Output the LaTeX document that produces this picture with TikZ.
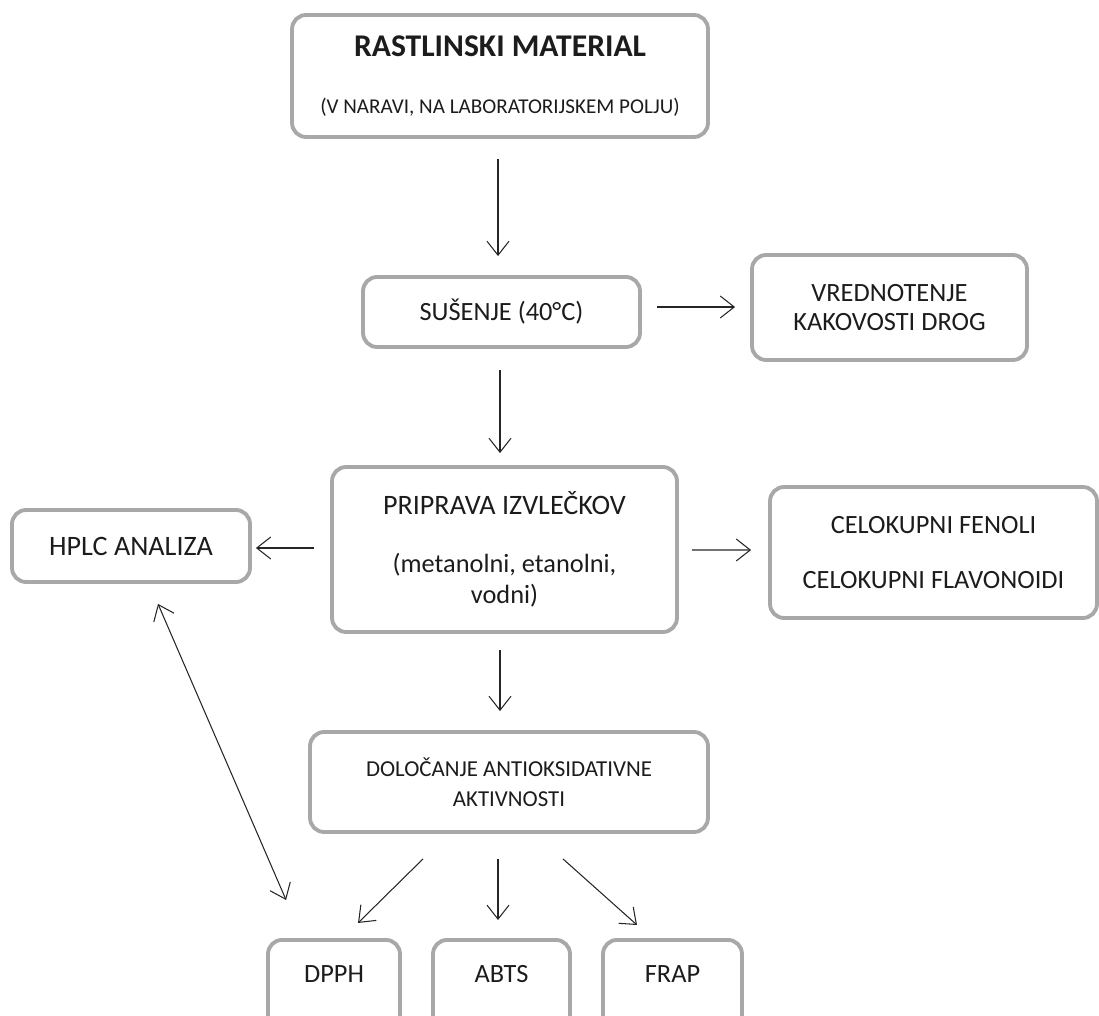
\documentclass[tikz,border=0pt]{standalone}
\usepackage{fontspec}
\setmainfont{Carlito}
\usetikzlibrary{arrows.meta, calc}
\definecolor{boxgray}{RGB}{168,168,168}
\definecolor{inkdark}{RGB}{28,28,28}

\begin{document}
\begin{tikzpicture}[x=0.02cm, y=-0.02cm,
  box/.style={draw=boxgray, line width=2.2pt, rounded corners=8pt, align=center,
    inner sep=0pt, text=inkdark, font=\fontsize{15}{19}\selectfont},
  arr/.style={-{Straight Barb[length=2.8mm, width=4.4mm]}, line width=0.6pt, black!85}]
  \useasboundingbox (0,0) rectangle (1099,1016);
  \clip (0,0) rectangle (1099,1016);

  % boxes
  \node[box, minimum width=8.32cm, minimum height=2.44cm] (rast) at (500,76)
    {{\bfseries\fontsize{18}{19}\selectfont RASTLINSKI MATERIAL}\\[13pt]
     {\fontsize{12}{19}\selectfont (V NARAVI, NA LABORATORIJSKEM POLJU)}};
  \node[box, minimum width=5.54cm, minimum height=1.40cm] (sus) at (501.5,312) {SUŠENJE (40°C)};
  \node[box, minimum width=5.5cm, minimum height=2.1cm, font=\fontsize{15}{17}\selectfont] (vred) at (889.5,307.5)
    {VREDNOTENJE\\KAKOVOSTI DROG};
  \node[box, minimum width=6.9cm, minimum height=3.3cm] (prip) at (504.5,549.5)
    {{\fontsize{16}{19}\selectfont PRIPRAVA IZVLEČKOV}\\[14pt]
     (metanolni, etanolni,\\[-1pt]
     vodni)};
  \node[box, minimum width=4.76cm, minimum height=1.44cm, font=\fontsize{16}{19}\selectfont] (hplc) at (131,546) {HPLC ANALIZA};
  \node[box, minimum width=6.54cm, minimum height=2.62cm] (celo) at (933.5,552.5)
    {CELOKUPNI FENOLI\\[12pt]CELOKUPNI FLAVONOIDI};
  \node[box, minimum width=7.96cm, minimum height=2.0cm, font=\fontsize{13}{17}\selectfont] (dol) at (509,782)
    {DOLOČANJE ANTIOKSIDATIVNE\\AKTIVNOSTI};
  \foreach \nm/\cx/\w/\lbl in {dpph/334/2.64/DPPH, abts/501.5/2.74/ABTS, frap/672.5/2.78/FRAP} {
    \node[box, anchor=north, minimum width=\w cm, text height=0.86cm, text depth=1.2cm] (\nm) at (\cx,938) {\lbl};
  }

  % arrows
  \draw[arr] ($(rast.south)+(-2,20)$) -- ($(rast.south |- sus.north)+(-2,-19)$);
  \draw[arr] ($(sus.east)+(15,-5)$) -- ($(vred.west)+(-15,-0.5)$);
  \draw[arr] ($(sus.south)+(-1.5,21)$) -- ($(prip.north)+(-4.5,-12)$);
  \draw[arr] ($(prip.west)+(-16,-1.5)$) -- ($(hplc.east)+(4,2)$);
  \draw[arr] ($(prip.east)+(13,0.5)$) -- ($(celo.west)+(-17,-2.5)$);
  \draw[arr] ($(prip.south)+(-4.5,16)$) -- ($(dol.north)+(-9,-19)$);
  \draw[arr] ($(dol.south)+(-86,25)$) -- ($(dpph.north)+(24,-15)$);
  \draw[arr] ($(dol.south)+(-11,25)$) -- ($(abts.north)+(-3.5,-18)$);
  \draw[arr] ($(dol.south)+(54,25)$) -- ($(frap.north)+(-35.5,-13)$);
  \draw[arr, {Straight Barb[length=2.8mm, width=4.4mm]}-{Straight Barb[length=2.8mm, width=4.4mm]}]
    ($(hplc.south)+(27,20)$) -- ($(dpph.north west)+(20,-38)$);
\end{tikzpicture}
\end{document}
